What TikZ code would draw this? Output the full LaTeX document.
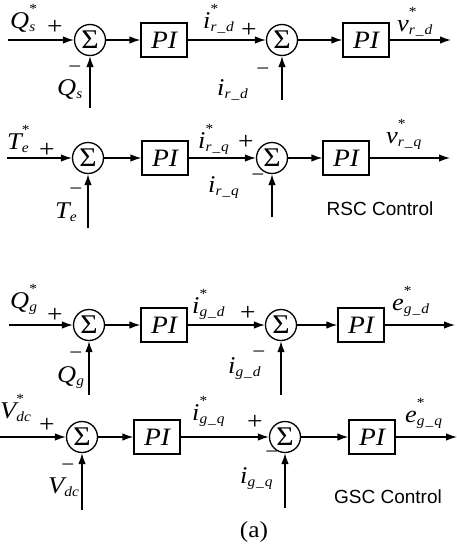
\documentclass[tikz,border=0pt]{standalone}
\usepackage{fontspec}
\setmainfont[FakeStretch=1.1]{Liberation Serif}
\setsansfont{Liberation Sans}
\usetikzlibrary{arrows.meta}
\newcommand{\subx}[1]{\raisebox{-3pt}{\fontsize{14}{16}\selectfont #1}}
\newcommand{\stx}{\rlap{\raisebox{15pt}{\fontsize{14}{16}\selectfont\upshape *}}}
\newcommand{\usc}{\kern1pt\_\kern1pt}
\tikzset{
  sumnode/.style={circle, draw, line width=1.3pt, minimum size=31pt, inner sep=0pt, font=\fontsize{27}{30}\selectfont},
  pibox/.style={draw, line width=1.3pt, minimum width=46pt, minimum height=34pt, inner sep=0pt, font=\fontsize{25}{28}\selectfont\itshape},
  sig/.style={anchor=base west, inner sep=0pt, font=\fontsize{24}{28}\selectfont\itshape},
  sgn/.style={inner sep=0pt, font=\fontsize{25}{28}\selectfont},
  sgnm/.style={inner sep=0pt, font=\fontsize{21}{24}\selectfont},
  flow/.style={line width=1.3pt, -{Latex[length=11pt,width=7.5pt]}},
  ctl/.style={inner sep=0pt, font=\fontsize{19}{23}\selectfont\sffamily}
}
\begin{document}
\begin{tikzpicture}[x=1pt,y=-1pt]
\useasboundingbox (0,0) rectangle (457,549);
% ---------- Row 1 ----------
\coordinate (in1) at (8,40);
\node[sumnode] (s11) at (90,40) {Σ};
\node[pibox] (p11) at (164,40) {PI};
\node[sumnode] (s12) at (282,40) {Σ};
\node[pibox] (p12) at (366,40) {PI};
\coordinate (o1) at (451,40);
\coordinate (f11) at (90,108);
\coordinate (f12) at (282,100);
\draw[flow] (in1) -- (s11);
\draw[flow] (s11) -- (p11);
\draw[flow] (p11) -- (s12);
\draw[flow] (s12) -- (p12);
\draw[flow] (p12) -- (o1);
\draw[flow] (f11) -- (s11);
\draw[flow] (f12) -- (s12);
\node[sig] (l11) at (10,28) {Q\stx\subx{s}};
\node[sgn] (a11) at (55,27) {+};
\node[sgnm] (m11) at (75,70) {−};
\node[sig] (l12) at (57,95) {Q\subx{s}};
\node[sig] (l13) at (203,28) {i\stx\subx{r\usc d}};
\node[sgn] (a12) at (249,30) {+};
\node[sgnm] (m12) at (263,72) {−};
\node[sig] (l14) at (217,95) {i\subx{r\usc d}};
\node[sig] (l15) at (397,31) {v\stx\subx{r\usc d}};
% ---------- Row 2 ----------
\coordinate (in2) at (7,158);
\node[sumnode] (s21) at (88,158) {Σ};
\node[pibox] (p21) at (165,158) {PI};
\node[sumnode] (s22) at (272,158) {Σ};
\node[pibox] (p22) at (346,158) {PI};
\coordinate (o2) at (450,158);
\coordinate (f21) at (88,228);
\coordinate (f22) at (272,217);
\draw[flow] (in2) -- (s21);
\draw[flow] (s21) -- (p21);
\draw[flow] (p21) -- (s22);
\draw[flow] (s22) -- (p22);
\draw[flow] (p22) -- (o2);
\draw[flow] (f21) -- (s21);
\draw[flow] (f22) -- (s22);
\node[sig] (l21) at (7,149) {T\stx\subx{e}};
\node[sgn] (a21) at (47,150) {+};
\node[sgnm] (m21) at (76,192) {−};
\node[sig] (l22) at (55,218) {T\subx{e}};
\node[sig] (l23) at (198,148) {i\stx\subx{r\usc q}};
\node[sgn] (a22) at (246,142) {+};
\node[sgnm] (m22) at (258,178) {−};
\node[sig] (l24) at (208,192) {i\subx{r\usc q}};
\node[sig] (l25) at (386,143) {v\stx\subx{r\usc q}};
\node[ctl] (rsc) at (380,209) {RSC Control};
% ---------- Row 3 ----------
\coordinate (in3) at (9,325);
\node[sumnode] (s31) at (89,325) {Σ};
\node[pibox] (p31) at (164,325) {PI};
\node[sumnode] (s32) at (281,325) {Σ};
\node[pibox] (p32) at (361,325) {PI};
\coordinate (o3) at (455,325);
\coordinate (f31) at (89,395);
\coordinate (f32) at (281,395);
\draw[flow] (in3) -- (s31);
\draw[flow] (s31) -- (p31);
\draw[flow] (p31) -- (s32);
\draw[flow] (s32) -- (p32);
\draw[flow] (p32) -- (o3);
\draw[flow] (f31) -- (s31);
\draw[flow] (f32) -- (s32);
\node[sig] (l31) at (10,308) {Q\stx\subx{g}};
\node[sgn] (a31) at (55,315) {+};
\node[sgnm] (m31) at (76,356) {−};
\node[sig] (l32) at (57,382) {Q\subx{g}};
\node[sig] (l33) at (192,313) {i\stx\subx{g\usc d}};
\node[sgn] (a32) at (248,313) {+};
\node[sgnm] (m32) at (259,355) {−};
\node[sig] (l34) at (228,373) {i\subx{g\usc d}};
\node[sig] (l35) at (392,310) {e\stx\subx{g\usc d}};
% ---------- Row 4 ----------
\coordinate (in4) at (0,437);
\node[sumnode] (s41) at (82,437) {Σ};
\node[pibox] (p41) at (157,437) {PI};
\node[sumnode] (s42) at (285,437) {Σ};
\node[pibox] (p42) at (372,437) {PI};
\coordinate (o4) at (457,437);
\coordinate (f41) at (82,510);
\coordinate (f42) at (285,508);
\draw[flow] (in4) -- (s41);
\draw[flow] (s41) -- (p41);
\draw[flow] (p41) -- (s42);
\draw[flow] (s42) -- (p42);
\draw[flow] (p42) -- (o4);
\draw[flow] (f41) -- (s41);
\draw[flow] (f42) -- (s42);
\node[sig] (l41) at (0,418) {V\stx\subx{dc}};
\node[sgn] (a41) at (47,425) {+};
\node[sgnm] (m41) at (68,468) {−};
\node[sig] (l42) at (48,493) {V\subx{dc}};
\node[sig] (l43) at (192,420) {i\stx\subx{g\usc q}};
\node[sgn] (a42) at (255,422) {+};
\node[sgnm] (m42) at (272,455) {−};
\node[sig] (l44) at (240,483) {i\subx{g\usc q}};
\node[sig] (l45) at (405,422) {e\stx\subx{g\usc q}};
\node[ctl] (gsc) at (388,497) {GSC Control};
\node[inner sep=0pt, font=\fontsize{23}{26}\selectfont] (cap) at (254,532) {(a)};
\end{tikzpicture}
\end{document}
